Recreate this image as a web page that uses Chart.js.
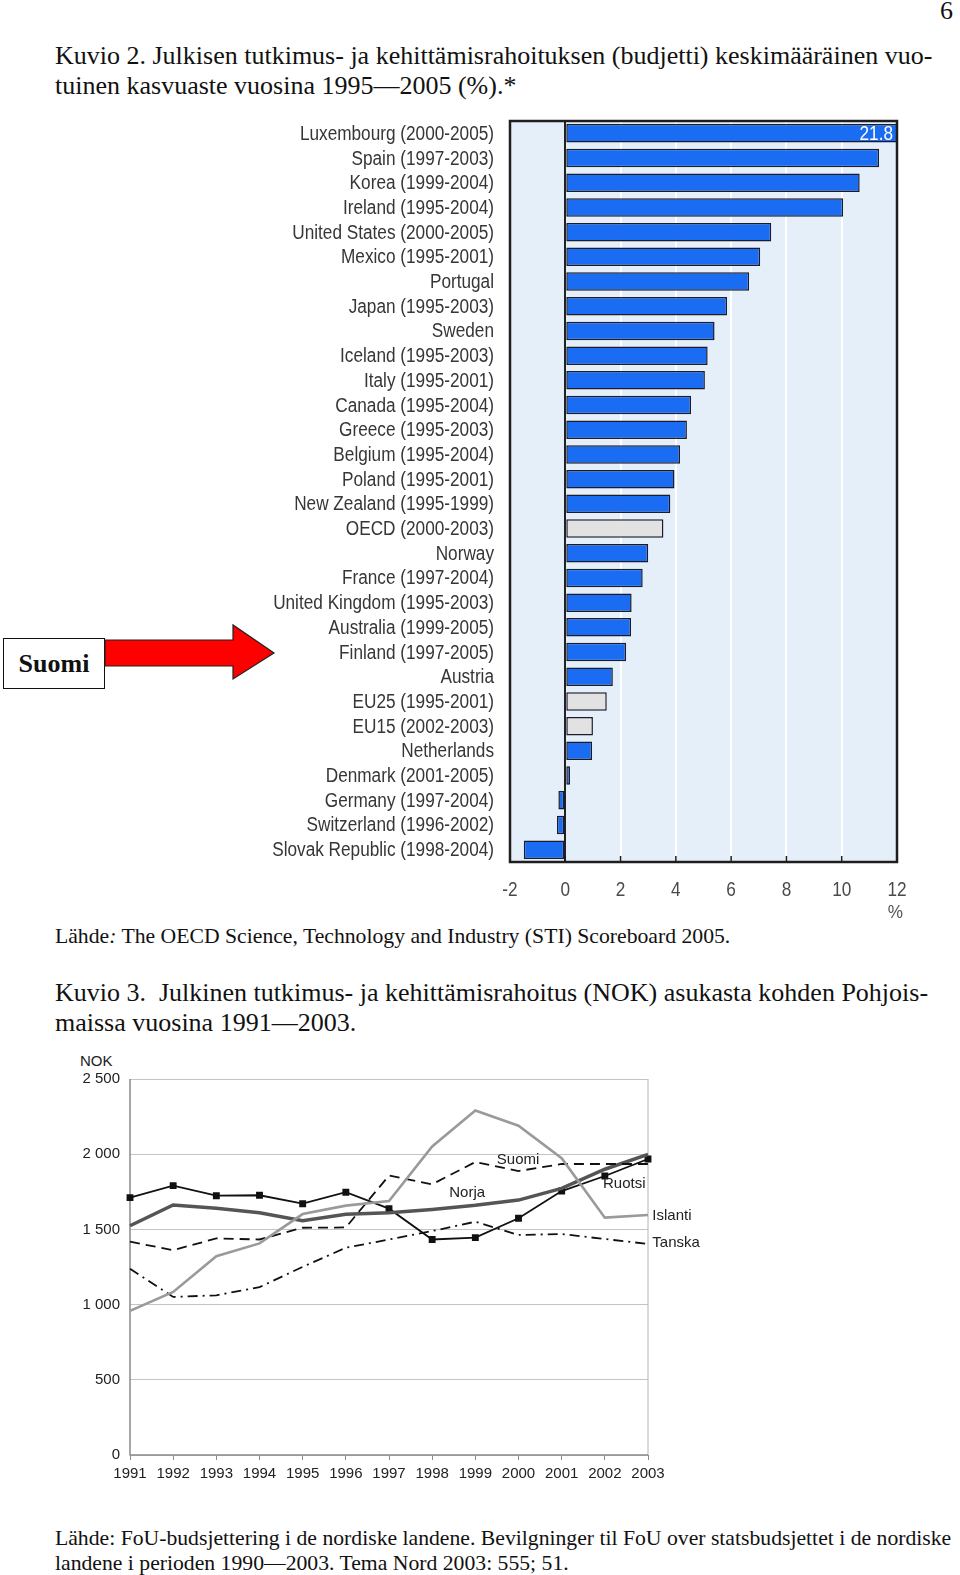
<!DOCTYPE html>
<html>
<head>
<meta charset="utf-8">
<script src="https://cdn.jsdelivr.net/npm/chart.js@4.4.1/dist/chart.umd.min.js"></script>
<style>
  html, body { margin: 0; padding: 0; background: #fff; }
  body { width: 960px; height: 1575px; position: relative; overflow: hidden;
         font-family: "Liberation Serif", "Times New Roman", serif; color: #111; }
  .abs { position: absolute; }
  .txt { font-size: 26px; line-height: 29.5px; white-space: nowrap; }
  .just { text-align: justify; text-align-last: justify; }
  .src { font-size: 21.7px; line-height: 25px; white-space: nowrap; }
  .sans { font-family: "Liberation Sans", Arial, sans-serif; }
</style>
</head>
<body>

<div class="abs txt" style="left:940px; top:-4px;">6</div>

<div class="abs txt just" style="left:55px; top:41px; width:871px;">Kuvio 2. Julkisen tutkimus- ja kehittämisrahoituksen (budjetti) keskimääräinen vuo-</div>
<div class="abs txt" style="left:55px; top:70.5px;">tuinen kasvuaste vuosina 1995—2005 (%).*</div>

<div class="abs" style="left:262px; top:112px; width:648px; height:812px;">
  <canvas id="growthChart"></canvas>
</div>
<div class="abs sans" style="left:887px; top:901px; font-size:19px; color:#555; transform:scaleX(0.9);">%</div>

<!-- Suomi callout -->
<div class="abs" style="left:3px; top:638px; width:100px; height:49px; border:1.5px solid #111; background:#fff;
     font-weight:bold; font-size:26px; line-height:49px; text-align:center;">Suomi</div>
<svg class="abs" style="left:104px; top:621px;" width="175" height="62">
  <polygon points="1,19 129,19 129,4 170,32 129,58 129,45 1,45" fill="#f00" stroke="#222" stroke-width="1.2"/>
</svg>

<div class="abs src" style="left:55px; top:924px;">Lähde<i>:</i> The OECD Science, Technology and Industry (STI) Scoreboard 2005.</div>

<div class="abs txt just" style="left:55px; top:978px; width:873px;">Kuvio 3. &nbsp;Julkinen tutkimus- ja kehittämisrahoitus (NOK) asukasta kohden Pohjois-</div>
<div class="abs txt" style="left:55px; top:1008px;">maissa vuosina 1991—2003.</div>

<div class="abs sans" style="left:80px; top:1052px; font-size:15px; color:#222;">NOK</div>
<div class="abs" style="left:75px; top:1045px; width:640px; height:440px;">
  <canvas id="nokChart"></canvas>
</div>

<div class="abs src just" style="left:55px; top:1526px; width:891px;">Lähde: FoU-budsjettering i de nordiske landene. Bevilgninger til FoU over statsbudsjettet i de nordiske</div>
<div class="abs src" style="left:55px; top:1551px;">landene i perioden 1990—2003. Tema Nord 2003: 555; 51.</div>

<script>
// ---------- Kuvio 2: growth of government R&D budgets ----------
const countries = [
  'Luxembourg (2000-2005)', 'Spain (1997-2003)', 'Korea (1999-2004)', 'Ireland (1995-2004)',
  'United States (2000-2005)', 'Mexico (1995-2001)', 'Portugal', 'Japan (1995-2003)', 'Sweden',
  'Iceland (1995-2003)', 'Italy (1995-2001)', 'Canada (1995-2004)', 'Greece (1995-2003)',
  'Belgium (1995-2004)', 'Poland (1995-2001)', 'New Zealand (1995-1999)', 'OECD (2000-2003)',
  'Norway', 'France (1997-2004)', 'United Kingdom (1995-2003)', 'Australia (1999-2005)',
  'Finland (1997-2005)', 'Austria', 'EU25 (1995-2001)', 'EU15 (2002-2003)', 'Netherlands',
  'Denmark (2001-2005)', 'Germany (1997-2004)', 'Switzerland (1996-2002)', 'Slovak Republic (1998-2004)'
];
const growthRates = [
  21.8, 11.35, 10.65, 10.05, 7.45, 7.05, 6.65, 5.85, 5.4, 5.15, 5.05, 4.55, 4.4, 4.15, 3.95,
  3.8, 3.55, 3.0, 2.8, 2.4, 2.38, 2.2, 1.72, 1.5, 1.0, 0.97, 0.17, -0.25, -0.3, -1.5
];
const aggregates = ['OECD (2000-2003)', 'EU25 (1995-2001)', 'EU15 (2002-2003)'];
const growthTicks = [-2, 0, 2, 4, 6, 8, 10, 12];

const blue = '#1a6cf2';
const aggGray = '#e2e2e2';
const labelFont = "20px 'Liberation Sans', Arial, sans-serif";
const squeeze = 0.86;   // the OECD labels are set in a narrow face

function narrowText(ctx, text, x, y, align) {
  ctx.save();
  ctx.translate(x, y);
  ctx.scale(squeeze, 1);
  ctx.textAlign = align;
  ctx.fillText(text, 0, 0);
  ctx.restore();
}

// light blue panel, frame, tick marks and the hand-set labels
const panelPlugin = {
  id: 'panel',
  beforeDraw(chart) {
    const { ctx, chartArea: a } = chart;
    ctx.save();
    ctx.fillStyle = '#e5effa';
    ctx.fillRect(a.left, a.top, a.right - a.left, a.bottom - a.top);
    ctx.restore();
  },
  afterDraw(chart) {
    const { ctx, chartArea: a, scales: { x, y } } = chart;
    ctx.save();
    ctx.strokeStyle = '#1e1e1e';
    ctx.lineWidth = 1.5;
    growthTicks.forEach(v => {
      const px = x.getPixelForValue(v);
      ctx.beginPath();
      ctx.moveTo(px, a.bottom - 6);
      ctx.lineTo(px, a.bottom);
      ctx.stroke();
    });
    ctx.lineWidth = 2.5;
    ctx.strokeRect(a.left, a.top, a.right - a.left, a.bottom - a.top);

    ctx.font = labelFont;
    ctx.textBaseline = 'middle';
    ctx.fillStyle = '#363636';
    countries.forEach((c, i) => narrowText(ctx, c, a.left - 16, y.getPixelForValue(i) + 1, 'right'));
    ctx.fillStyle = '#4a4a4a';
    growthTicks.forEach(v => narrowText(ctx, String(v), x.getPixelForValue(v), a.bottom + 28, 'center'));

    // value written inside bars that run off the scale
    const meta = chart.getDatasetMeta(0);
    ctx.fillStyle = '#fff';
    growthRates.forEach((v, i) => {
      if (v > x.max) narrowText(ctx, String(v), a.right - 4, meta.data[i].y + 1, 'right');
    });
    ctx.restore();
  }
};

new Chart(document.getElementById('growthChart'), {
  type: 'bar',
  data: {
    labels: countries,
    datasets: [{
      data: growthRates,
      backgroundColor: countries.map(c => aggregates.includes(c) ? aggGray : blue),
      borderColor: '#1b1b2a',
      borderWidth: 1.5,
      borderSkipped: false,
      barPercentage: 0.75,
      categoryPercentage: 1.0
    }]
  },
  options: {
    indexAxis: 'y',
    responsive: true,
    maintainAspectRatio: false,
    animation: false,
    layout: { padding: { top: 9, right: 13, left: 0, bottom: 0 } },
    plugins: { legend: { display: false }, tooltip: { enabled: false } },
    scales: {
      x: {
        min: -2, max: 12,
        afterBuildTicks: s => { s.ticks = growthTicks.map(v => ({ value: v })); },
        afterFit: s => { s.height = 62; },
        grid: {
          color: c => c.tick && c.tick.value === 0 ? '#222' : 'rgba(255,255,255,0.95)',
          lineWidth: 2,
          drawTicks: false
        },
        border: { display: false },
        ticks: { display: false }
      },
      y: {
        afterFit: s => { s.width = 248; },
        grid: { display: false, drawTicks: false },
        border: { display: false },
        ticks: { display: false }
      }
    }
  },
  plugins: [panelPlugin]
});

// ---------- Kuvio 3: NOK per capita, Nordic countries ----------
const years = ['1991', '1992', '1993', '1994', '1995', '1996', '1997', '1998', '1999', '2000', '2001', '2002', '2003'];
const ruotsi  = [1711, 1791, 1724, 1727, 1671, 1747, 1638, 1433, 1445, 1574, 1755, 1855, 1968];
const norja   = [1524, 1662, 1640, 1611, 1558, 1600, 1611, 1633, 1660, 1695, 1773, 1900, 1999];
const suomi   = [1418, 1362, 1440, 1433, 1511, 1513, 1858, 1800, 1948, 1888, 1935, 1935, 1935];
const islanti = [958, 1084, 1322, 1407, 1602, 1658, 1689, 2051, 2291, 2189, 1973, 1578, 1596];
const tanska  = [1238, 1051, 1062, 1116, 1251, 1378, 1433, 1489, 1551, 1463, 1469, 1436, 1403];
const nokTicks = [0, 500, 1000, 1500, 2000, 2500];

// series names placed beside the lines: [name, x (year index), y (NOK), align]
const seriesNames = [
  ['Suomi', 8.99, 1961, 'center'],
  ['Norja', 7.81, 1740, 'center'],
  ['Ruotsi', 11.45, 1800, 'center'],
  ['Islanti', 12.1, 1589, 'left'],
  ['Tanska', 12.1, 1408, 'left']
];

const nokFrame = {
  id: 'nokFrame',
  beforeDatasetsDraw(chart) {
    const { ctx, chartArea: a } = chart;
    ctx.save();
    ctx.strokeStyle = '#b4b4b4';
    ctx.lineWidth = 1;
    ctx.beginPath();
    ctx.moveTo(a.right, a.top);
    ctx.lineTo(a.right, a.bottom);
    ctx.stroke();
    ctx.strokeStyle = '#8a8a8a';
    ctx.lineWidth = 1.5;
    ctx.beginPath();
    ctx.moveTo(a.left, a.top);
    ctx.lineTo(a.left, a.bottom);
    ctx.lineTo(a.right, a.bottom);
    ctx.stroke();
    ctx.restore();
  },
  afterDraw(chart) {
    const { ctx, scales: { x, y } } = chart;
    ctx.save();
    ctx.font = "15px 'Liberation Sans', Arial, sans-serif";
    ctx.fillStyle = '#222';
    ctx.textBaseline = 'middle';
    const step = x.getPixelForValue(1) - x.getPixelForValue(0);
    seriesNames.forEach(([name, xi, v, align]) => {
      ctx.textAlign = align;
      ctx.fillText(name, x.getPixelForValue(0) + xi * step, y.getPixelForValue(v));
    });
    ctx.restore();
  }
};

new Chart(document.getElementById('nokChart'), {
  type: 'line',
  data: {
    labels: years,
    datasets: [
      { label: 'Islanti', data: islanti, borderColor: '#9a9a9a', borderWidth: 2.6, pointRadius: 0 },
      { label: 'Tanska', data: tanska, borderColor: '#111', borderWidth: 1.8, borderDash: [10, 5, 2, 5], pointRadius: 0 },
      { label: 'Suomi', data: suomi, borderColor: '#111', borderWidth: 1.8, borderDash: [10, 6], pointRadius: 0 },
      { label: 'Norja', data: norja, borderColor: '#555', borderWidth: 3.5, pointRadius: 0 },
      { label: 'Ruotsi', data: ruotsi, borderColor: '#111', borderWidth: 1.8, pointRadius: 3.6,
        pointStyle: 'rect', pointBackgroundColor: '#111', pointBorderColor: '#111' }
    ]
  },
  options: {
    responsive: true,
    maintainAspectRatio: false,
    animation: false,
    layout: { padding: { top: 34, right: 67, left: 0, bottom: 0 } },
    plugins: { legend: { display: false }, tooltip: { enabled: false } },
    elements: { line: { tension: 0 } },
    scales: {
      x: {
        offset: false,
        afterFit: s => { s.height = 30; },
        grid: { display: true, drawOnChartArea: false, color: '#8a8a8a', tickLength: 5 },
        border: { display: false },
        ticks: { color: '#222', padding: 5, maxRotation: 0, autoSkip: false,
                 font: { family: "'Liberation Sans', Arial, sans-serif", size: 15 } }
      },
      y: {
        min: 0, max: 2500,
        afterBuildTicks: s => { s.ticks = nokTicks.map(v => ({ value: v })); },
        afterFit: s => { s.width = 55; },
        grid: { color: '#c4c4c4', lineWidth: 1, drawTicks: false },
        border: { display: false },
        ticks: {
          color: '#222', padding: 10,
          font: { family: "'Liberation Sans', Arial, sans-serif", size: 15 },
          callback: v => v >= 1000 ? Math.floor(v / 1000) + ' ' + String(v % 1000).padStart(3, '0') : String(v)
        }
      }
    }
  },
  plugins: [nokFrame]
});
</script>
</body>
</html>
